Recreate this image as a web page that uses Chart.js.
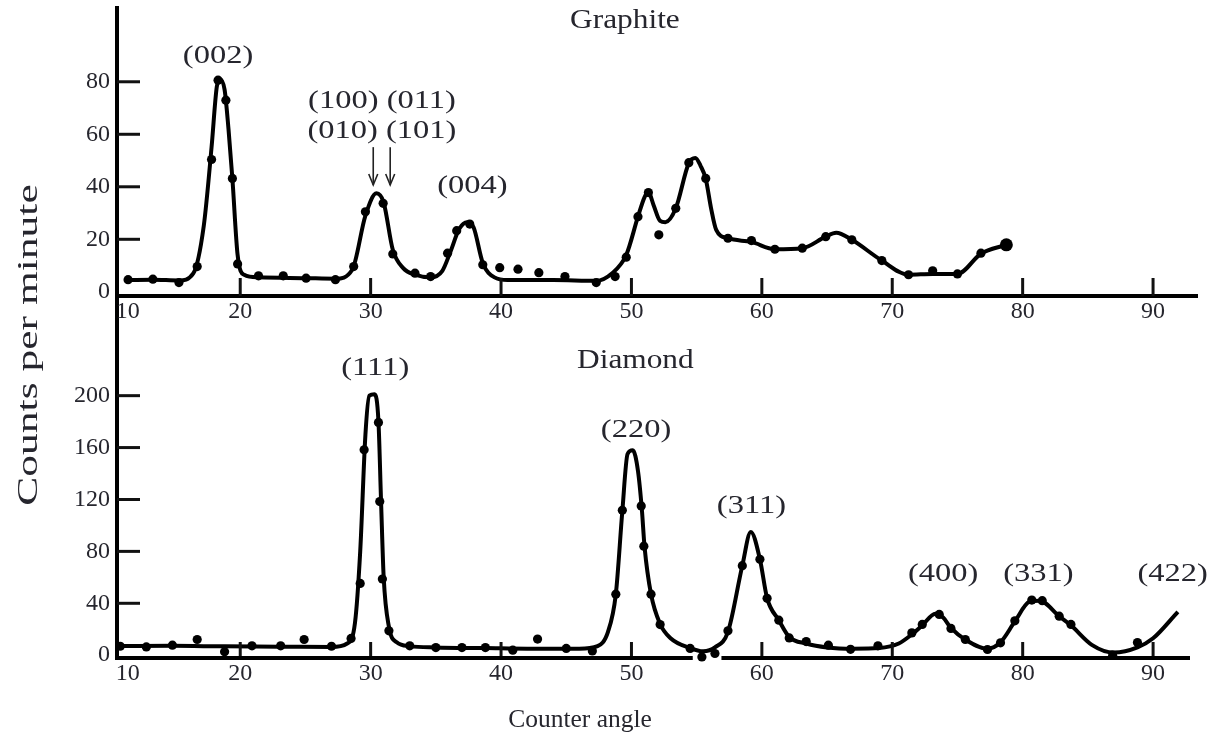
<!DOCTYPE html>
<html>
<head>
<meta charset="utf-8">
<script src="https://cdn.jsdelivr.net/npm/chart.js@4.4.0/dist/chart.umd.min.js"></script>
<style>
html,body{margin:0;padding:0;background:#fff;}
#wrap{position:relative;width:1215px;height:744px;overflow:hidden;}
#wrap canvas{position:absolute;left:0;top:0;}
</style>
</head>
<body>
<div id="wrap">
  <canvas id="cBot" width="1215" height="744"></canvas>
  <canvas id="cTop" width="1215" height="744"></canvas>
</div>
<script>
// ---------- tick labels ----------
const xTickValues = [10, 20, 30, 40, 50, 60, 70, 80, 90];
const graphiteYTicks = [0, 20, 40, 60, 80];
const diamondYTicks = [0, 40, 80, 120, 160, 200];

// ---------- Graphite: measured points (dots) ----------
const graphiteDotX = [11.4, 13.3, 15.3, 16.7, 17.8, 18.3, 18.9, 19.4, 19.8, 21.4, 23.3, 25.05, 27.3, 28.7, 29.6, 30.96, 31.7, 33.4, 34.6, 35.9, 36.6, 37.6, 38.6, 39.9, 41.3, 42.9, 44.9, 47.3, 48.75, 49.6, 50.5, 51.3, 52.1, 53.4, 54.4, 55.7, 57.4, 59.2, 61.0, 63.1, 64.9, 66.9, 69.2, 71.25, 73.1, 75.0, 76.8, 78.75];
const graphiteDotY = [4.6, 4.8, 3.5, 9.6, 50.4, 80.6, 73, 43.2, 10.6, 6.1, 6.1, 5.2, 4.6, 9.6, 30.5, 33.7, 14.4, 7.1, 5.8, 14.7, 23.3, 25.8, 10.3, 9.2, 8.6, 7.3, 5.8, 3.5, 5.8, 13.2, 28.6, 37.8, 21.7, 31.8, 49.2, 43.2, 20.4, 19.5, 16.2, 16.6, 21, 19.8, 11.9, 6.5, 8, 6.8, 14.7, 17.9];

// ---------- Graphite: drawn curve ----------
const graphiteCurveX = [11.4, 13.3, 15.3, 16.4, 17.2, 17.8, 18.2, 18.45, 18.8, 19.1, 19.4, 19.8, 20.3, 21.4, 25, 27.3, 28.6, 29.6, 30.45, 31.0, 31.7, 32.5, 33.4, 34.6, 35.5, 36.1, 36.8, 37.4, 37.9, 38.6, 39.5, 40.5, 44, 47.3, 48.5, 49.6, 50.5, 51.0, 51.3, 51.7, 52.2, 52.6, 53.4, 54.4, 54.9, 55.3, 55.7, 56.1, 56.5, 57.4, 59.2, 61.0, 63.1, 64.9, 65.7, 66.9, 69.2, 71.25, 73.1, 75.0, 76.8, 78.75];
const graphiteCurveY = [4.5, 4.6, 4.3, 7, 25, 55, 78, 81, 77, 62, 43, 14, 6.5, 5.5, 5.2, 5, 8.5, 29, 37.5, 34, 16, 9, 6.5, 5.5, 8, 15, 24, 26.5, 24.5, 11, 5.5, 4.5, 4.5, 4.2, 7, 14, 28.6, 36, 38, 33, 27, 26.5, 31.8, 49, 51, 48, 43, 32, 23.6, 20.4, 19, 16.2, 16.6, 21, 22.5, 19.8, 11.9, 6.5, 6.8, 6.8, 14.5, 17.9];

// ---------- Diamond: measured points (dots) ----------
const diamondDotX = [10.8, 12.8, 14.8, 16.7, 18.8, 20.9, 23.1, 24.9, 27.0, 28.5, 29.2, 29.5, 30.6, 30.7, 30.9, 31.4, 33.0, 35.0, 37.0, 38.8, 40.9, 42.8, 45.0, 47.0, 48.8, 49.3, 50.75, 50.95, 51.5, 52.2, 54.5, 55.4, 56.4, 57.4, 58.5, 59.85, 60.4, 61.3, 62.1, 63.4, 65.1, 66.8, 68.9, 71.5, 72.3, 73.6, 74.5, 75.6, 77.3, 78.3, 79.4, 80.7, 81.5, 82.8, 83.7, 86.9, 88.8];
const diamondDotY = [6.9, 6.4, 7.7, 12.1, 2.6, 7.2, 7.2, 12.1, 6.9, 12.9, 55.3, 158.3, 179.4, 118.4, 58.7, 18.8, 7.2, 5.9, 5.9, 5.9, 3.9, 12.4, 5.2, 3.3, 47, 111.7, 115, 84, 47, 23.6, 5.2, -1.3, 1.3, 18.8, 69, 73.9, 43.8, 27, 13.3, 10.5, 7.7, 4.5, 7.2, 17.2, 23.7, 31.4, 20.6, 12.1, 4.4, 9.5, 26.5, 42.5, 42, 30.1, 23.7, 0, 9.8];

// ---------- Diamond: drawn curve ----------
const diamondCurveX = [10.6, 14.8, 18.8, 23, 27, 28.2, 28.8, 29.2, 29.6, 29.9, 30.3, 30.6, 30.8, 31.0, 31.4, 32.0, 33.0, 35, 38.8, 42, 46, 47.4, 48.2, 48.8, 49.3, 49.7, 50.1, 50.5, 50.8, 51.0, 51.5, 52.2, 53.0, 54.5, 55.5, 56.4, 57.4, 58.5, 59.15, 59.85, 60.4, 61.3, 62.1, 63.4, 65, 67, 69, 70.5, 71.5, 72.3, 73.3, 73.9, 74.5, 75.6, 77.3, 78.3, 79.4, 80.5, 81.3, 82.8, 83.7, 85.3, 87, 88.8, 90, 91.9];
const diamondCurveY = [7, 7.2, 6.8, 6.6, 6.3, 9, 25, 80, 170, 200, 201, 180, 118, 60, 22, 10, 7, 6, 5.5, 5, 5, 7, 18, 47, 111, 155, 158, 142, 112, 84, 47, 24, 13, 5.5, 3, 6, 18, 69, 95, 74, 44, 27, 14, 9, 6, 5, 5.5, 9, 16, 23, 32, 29, 21, 12, 5, 10, 26, 41, 42, 30, 23, 8, 2, 6, 13, 33.4];

// ---------- annotations (first entry of each list = panel title) ----------
const graphiteLabelText = ['Graphite', '(002)', '(100) (011)', '(010) (101)', '(004)'];
const graphiteLabelX = [49.5, 18.3, 30.87, 30.87, 37.8];
const graphiteLabelY = [103.1, 89.8, 72.6, 61.2, 40.3];
const graphiteArrowX = [30.2, 31.5];
const graphiteArrowFromTo = [55.1, 40.7];

const diamondLabelText = ['Diamond', '(111)', '(220)', '(311)', '(400)', '(331)', '(422)'];
const diamondLabelX = [50.3, 30.35, 50.35, 59.2, 73.9, 81.2, 91.5];
const diamondLabelY = [226.7, 221.4, 173.6, 114.6, 62.6, 62.6, 62.6];
const diamondAxisGap = [54.7, 56.9];

const FONT = '"Liberation Serif", "Times New Roman", serif';
const TEXT = '#26262e';

function pts(xs, ys) { return xs.map((x, i) => ({x: x, y: ys[i]})); }

const innerTicks = {
  id: 'innerTicks',
  afterDraw(chart, args, o) {
    const {ctx, chartArea: a, scales: {x, y}} = chart;
    ctx.save();
    ctx.strokeStyle = '#111';
    ctx.lineWidth = 3;
    o.yTicks.forEach(v => {
      if (v === 0) return;
      const py = y.getPixelForValue(v);
      ctx.beginPath(); ctx.moveTo(a.left, py); ctx.lineTo(a.left + o.yLen, py); ctx.stroke();
    });
    o.xTicks.forEach(v => {
      if (v <= x.min) return;
      const px = x.getPixelForValue(v);
      ctx.beginPath(); ctx.moveTo(px, a.bottom); ctx.lineTo(px, a.bottom - o.xLen); ctx.stroke();
    });
    if (o.gap) {
      ctx.lineWidth = 4;
      ctx.strokeStyle = '#000';
      const g0 = x.getPixelForValue(o.gap[0]), g1 = x.getPixelForValue(o.gap[1]);
      ctx.beginPath(); ctx.moveTo(a.left - 2, a.bottom); ctx.lineTo(g0, a.bottom); ctx.stroke();
      ctx.beginPath(); ctx.moveTo(g1, a.bottom); ctx.lineTo(a.right, a.bottom); ctx.stroke();
    }
    ctx.restore();
  }
};

function stretchedText(ctx, t, px, py, size, sx) {
  ctx.save();
  ctx.translate(px, py);
  ctx.scale(sx, 1);
  ctx.font = size + 'px ' + FONT;
  ctx.fillText(t, 0, 0);
  ctx.restore();
}

const annotate = {
  id: 'annotate',
  afterDatasetsDraw(chart, args, o) {
    const {ctx, scales: {x, y}} = chart;
    ctx.save();
    ctx.fillStyle = TEXT;
    ctx.textAlign = 'center';
    ctx.textBaseline = 'middle';
    o.texts.forEach((t, i) => {
      const px = x.getPixelForValue(o.xs[i]), py = y.getPixelForValue(o.ys[i]);
      if (i === 0) stretchedText(ctx, t, px, py, o.titleSize, o.titleStretch);
      else stretchedText(ctx, t, px, py, o.size, o.stretch);
    });
    if (o.arrows) {
      ctx.strokeStyle = '#222';
      ctx.lineWidth = 1.6;
      o.arrows.forEach(v => {
        const px = x.getPixelForValue(v);
        const y0 = y.getPixelForValue(o.arrowFromTo[0]);
        const y1 = y.getPixelForValue(o.arrowFromTo[1]);
        ctx.beginPath(); ctx.moveTo(px, y0); ctx.lineTo(px, y1); ctx.stroke();
        ctx.beginPath(); ctx.moveTo(px - 4.5, y1 - 11); ctx.lineTo(px, y1); ctx.lineTo(px + 4.5, y1 - 11); ctx.stroke();
      });
    }
    if (o.axisTitles) {
      stretchedText(ctx, 'Counter angle', 580, 720, 25, 1.02);
      ctx.save();
      ctx.translate(29, 345);
      ctx.rotate(-Math.PI / 2);
      stretchedText(ctx, 'Counts per minute', 0, 0, 29, 1.5);
      ctx.restore();
    }
    ctx.restore();
  }
};

function xScale(max, h) {
  return {
    type: 'linear', min: 10.55, max: max,
    afterBuildTicks: s => { s.ticks = xTickValues.map(v => ({value: v})); },
    afterFit: s => { s.height = h; s.paddingLeft = 0; s.paddingRight = 0; },
    ticks: {
      autoSkip: false, maxRotation: 0, padding: 1, color: TEXT,
      font: {family: FONT, size: 24},
      callback: v => (v === 10 ? '\u2002\u2002\u200210' : String(v))
    },
    grid: {display: false, drawTicks: false, tickLength: 0},
    border: {display: true, width: 4, color: '#000'}
  };
}
function yScale(min, max, ticks) {
  return {
    type: 'linear', min: min, max: max,
    afterBuildTicks: s => { s.ticks = ticks.map(v => ({value: v})); },
    afterFit: s => { s.width = 117; s.paddingTop = 0; s.paddingBottom = 0; },
    ticks: {padding: 7, color: TEXT, font: {family: FONT, size: 24}},
    grid: {display: false, drawTicks: false, tickLength: 0},
    border: {display: true, width: 4, color: '#000'}
  };
}

function datasets(cx, cy, dx, dy, bigLast) {
  return [
    {
      label: 'curve', data: pts(cx, cy), showLine: true,
      borderColor: '#000', borderWidth: 4, pointRadius: 0,
      cubicInterpolationMode: 'monotone', clip: false
    },
    {
      label: 'measured', data: pts(dx, dy), showLine: false,
      backgroundColor: '#000', borderColor: '#000', borderWidth: 0,
      pointRadius: ctx => (bigLast && ctx.dataIndex === dx.length - 1 ? 6.5 : 4.6),
      clip: false
    }
  ];
}

const common = {
  responsive: false, animation: false, devicePixelRatio: 1,
  plugins: {legend: {display: false}, tooltip: {enabled: false}, title: {display: false}}
};

new Chart(document.getElementById('cTop'), {
  type: 'scatter',
  data: {datasets: datasets(graphiteCurveX, graphiteCurveY, graphiteDotX, graphiteDotY, true)},
  options: Object.assign({}, common, {
    layout: {padding: {left: 0, top: 8, right: 18, bottom: 414}},
    scales: {x: xScale(93.37, 34), y: yScale(-1.6, 108.1, graphiteYTicks)},
    plugins: Object.assign({}, common.plugins, {
      innerTicks: {yTicks: graphiteYTicks, xTicks: xTickValues, yLen: 23, xLen: 18},
      annotate: {texts: graphiteLabelText, xs: graphiteLabelX, ys: graphiteLabelY,
                 size: 26, stretch: 1.25, titleSize: 28, titleStretch: 1.12,
                 arrows: graphiteArrowX, arrowFromTo: graphiteArrowFromTo}
    })
  }),
  plugins: [innerTicks, annotate]
});

const botX = xScale(92.83, 86);
botX.border = {display: false};
new Chart(document.getElementById('cBot'), {
  type: 'scatter',
  data: {datasets: datasets(diamondCurveX, diamondCurveY, diamondDotX, diamondDotY, false)},
  options: Object.assign({}, common, {
    layout: {padding: {left: 0, top: 296, right: 25, bottom: 0}},
    scales: {x: botX, y: yScale(-2.16, 276.8, diamondYTicks)},
    plugins: Object.assign({}, common.plugins, {
      innerTicks: {yTicks: diamondYTicks, xTicks: xTickValues, yLen: 23, xLen: 16, gap: diamondAxisGap},
      annotate: {texts: diamondLabelText, xs: diamondLabelX, ys: diamondLabelY,
                 size: 26, stretch: 1.25, titleSize: 28, titleStretch: 1.12, axisTitles: true}
    })
  }),
  plugins: [innerTicks, annotate]
});
</script>
</body>
</html>
